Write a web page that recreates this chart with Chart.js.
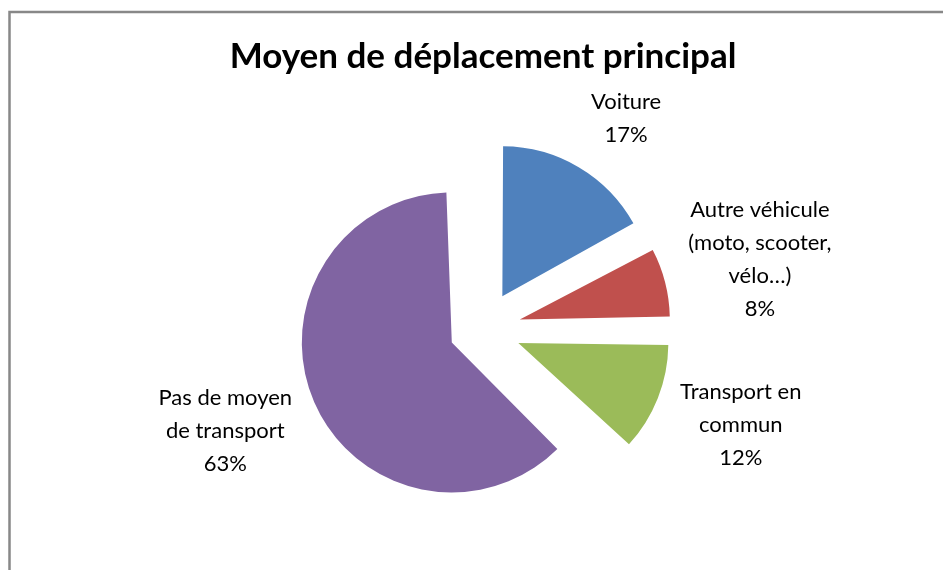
<!DOCTYPE html>
<html>
<head>
<meta charset="utf-8">
<script src="https://cdn.jsdelivr.net/npm/chart.js@4.4.1/dist/chart.umd.min.js"></script>
<style>
    html, body { margin: 0; padding: 0; background: #fff; }
    #wrap { width: 943px; height: 570px; position: relative; }
</style>
</head>
<body>
<div id="wrap"><canvas id="pieChart"></canvas></div>
<script>
const categories = ["Voiture", "Autre véhicule (moto, scooter, vélo…)", "Transport en commun", "Pas de moyen de transport"];
const labelLines = [
    ["Voiture"],
    ["Autre véhicule", "(moto, scooter,", "vélo…)"],
    ["Transport en", "commun"],
    ["Pas de moyen", "de transport"]
];
const values = [17, 8, 12, 63];
const colors = ["#4F81BD", "#C0504D", "#9BBB59", "#8064A2"];

const SLICE_SHIFTS = [38, 38, 38, 34];   // pixels each slice is pulled out
const PIE_RADIUS = 150;                  // drawn radius
const LABEL_GAP = 24;
const FONT = "Lato";

// grey frame on the top and left edges
const framePlugin = {
    id: "frame",
    beforeDraw(chart) {
        const ctx = chart.ctx;
        ctx.save();
        ctx.strokeStyle = "#888888";
        ctx.lineWidth = 2.5;
        ctx.beginPath();
        ctx.moveTo(9.5, 600);
        ctx.lineTo(9.5, 12);
        ctx.lineTo(950, 12);
        ctx.stroke();
        ctx.restore();
    }
};

// Chart.js grows an offset arc by offset/4 * (1 - sin(circumference));
// shrink each arc by that amount so all slices end up the same size
const equalRadius = {
    id: "equalRadius",
    afterDatasetUpdate(chart, args) {
        const meta = chart.getDatasetMeta(args.index);
        meta.data.forEach((arc, i) => {
            const fix = 1 - Math.sin(Math.min(Math.PI, arc.circumference));
            arc.outerRadius = PIE_RADIUS - SLICE_SHIFTS[i] * fix;
        });
    }
};

// category + percent labels outside each slice
const outsideLabels = {
    id: "outsideLabels",
    afterDatasetsDraw(chart) {
        const ctx = chart.ctx;
        const meta = chart.getDatasetMeta(0);
        const lh = 33;
        ctx.save();
        ctx.font = "22px " + FONT;
        ctx.fillStyle = "#000";
        ctx.textAlign = "center";
        ctx.textBaseline = "middle";
        meta.data.forEach((arc, i) => {
            const p = arc.getProps(["x", "y", "startAngle", "endAngle"], true);
            const mid = (p.startAngle + p.endAngle) / 2;
            const lines = [...labelLines[i], values[i] + "%"];
            const w = Math.max(...lines.map(l => ctx.measureText(l).width));
            const h = lines.length * lh;
            const cos = Math.cos(mid), sin = Math.sin(mid);
            const d = PIE_RADIUS + SLICE_SHIFTS[i] + LABEL_GAP;
            const cx = p.x + cos * d + Math.sign(cos) * w / 2;
            const cy = p.y + sin * d + sin * h / 2;
            lines.forEach((l, k) => ctx.fillText(l, cx, cy - h / 2 + lh * (k + 0.5)));
        });
        ctx.restore();
    }
};

new Chart(document.getElementById("pieChart"), {
    type: "pie",
    data: {
        labels: categories,
        datasets: [{
            data: values,
            backgroundColor: colors,
            borderWidth: 0,
            offset: SLICE_SHIFTS.map(s => s * 4),   // arc element is translated by offset / 4
            hoverOffset: 0,
            radius: PIE_RADIUS
        }]
    },
    options: {
        responsive: true,
        maintainAspectRatio: false,
        animation: false,
        layout: { padding: { left: 23, right: 0, top: 0, bottom: 0 } },
        plugins: {
            legend: { display: false },
            tooltip: { enabled: false },
            title: {
                display: true,
                text: "Moyen de déplacement principal",
                color: "#000",
                font: { family: FONT, size: 35, weight: "bold" },
                padding: { top: 36, bottom: 10 }
            }
        }
    },
    plugins: [framePlugin, equalRadius, outsideLabels]
});
</script>
</body>
</html>
